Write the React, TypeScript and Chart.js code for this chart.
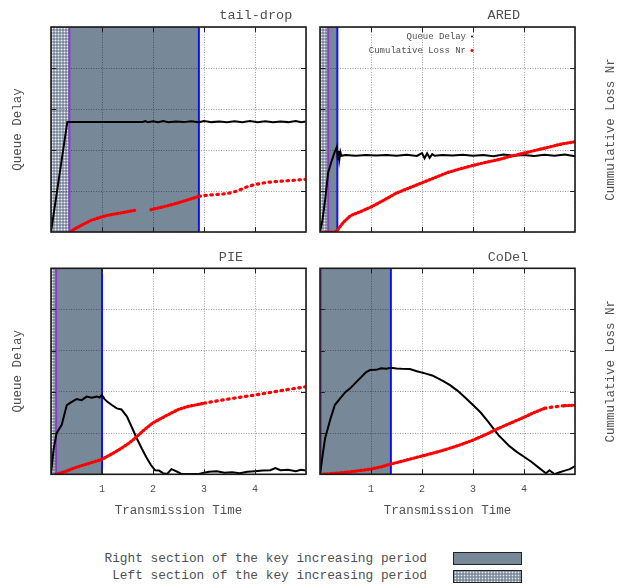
import React, { useEffect, useRef } from "react";
import { Chart, registerables } from "chart.js";

Chart.register(...registerables);

// ---------------- data ----------------
const panelTitles = ["tail-drop", "ARED", "PIE", "CoDel"];
const xTickLabels = [1, 2, 3, 4];
const xAxisTitle = "Transmission Time";
const yAxisTitle = "Queue Delay";
const y2AxisTitle = "Cummulative Loss Nr";
const seriesLabels = ["Queue Delay", "Cumulative Loss Nr"];
const keyLabels = [
  "Right section of the key increasing period",
  "Left section of the key increasing period",
];

// boundaries of the key increasing period (x units)
const leftSectionEnd = [0.36, 0.16, 0.1, 0.02];
const rightSectionEnd = [2.9, 0.34, 1.0, 1.39];

const tailDropDelayX = [0, 0.32, 0.8, 1.4, 1.8, 1.85, 1.9, 2.0, 2.1, 2.2, 2.3, 2.45, 2.6, 2.75, 2.9, 3.0, 3.15, 3.3, 3.45, 3.6, 3.75, 3.9, 4.05, 4.2, 4.35, 4.5, 4.65, 4.8, 4.9, 5.0];
const tailDropDelayY = [0, 0.537, 0.537, 0.537, 0.537, 0.541, 0.535, 0.54, 0.536, 0.541, 0.535, 0.539, 0.536, 0.54, 0.535, 0.541, 0.536, 0.539, 0.535, 0.54, 0.536, 0.541, 0.536, 0.54, 0.535, 0.539, 0.536, 0.541, 0.535, 0.539];
const tailDropLossX = [0.37, 0.5, 0.65, 0.8, 0.95, 1.1, 1.3, 1.5, 1.65, 1.8, 1.96, 2.1, 2.3, 2.5, 2.7, 2.9, 3.0, 3.2, 3.45, 3.65, 3.84, 4.0, 4.23, 4.5, 4.75, 5.0];
const tailDropLossY = [0, 0.02, 0.04, 0.058, 0.07, 0.081, 0.09, 0.099, 0.106, null, 0.109, 0.117, 0.129, 0.143, 0.158, 0.174, 0.178, 0.182, 0.187, 0.2, 0.22, 0.232, 0.242, 0.248, 0.252, 0.257];

const aredDelayX = [0, 0.05, 0.1, 0.16, 0.22, 0.28, 0.33, 0.35, 0.37, 0.38, 0.4, 0.42, 0.5, 0.7, 0.9, 1.1, 1.3, 1.5, 1.7, 1.9, 2.0, 2.05, 2.1, 2.15, 2.2, 2.25, 2.4, 2.6, 2.8, 3.0, 3.2, 3.4, 3.6, 3.8, 4.0, 4.2, 4.4, 4.6, 4.8, 5.0];
const aredDelayY = [0, 0.06, 0.155, 0.29, 0.34, 0.385, 0.415, 0.35, 0.395, 0.355, 0.39, 0.372, 0.376, 0.372, 0.375, 0.373, 0.376, 0.372, 0.377, 0.371, 0.385, 0.36, 0.384, 0.362, 0.38, 0.372, 0.376, 0.373, 0.377, 0.372, 0.375, 0.37, 0.378, 0.372, 0.376, 0.371, 0.377, 0.372, 0.378, 0.37];
const aredLossX = [0.1, 0.3, 0.36, 0.45, 0.6, 0.8, 1.0, 1.25, 1.5, 1.75, 2.0, 2.25, 2.5, 2.75, 3.0, 3.25, 3.5, 3.75, 4.0, 4.25, 4.5, 4.75, 5.0];
const aredLossY = [0, 0, 0.015, 0.045, 0.08, 0.1, 0.122, 0.155, 0.19, 0.215, 0.24, 0.265, 0.29, 0.308, 0.325, 0.34, 0.353, 0.37, 0.385, 0.4, 0.415, 0.43, 0.44];

const pieDelayX = [0, 0.05, 0.11, 0.21, 0.31, 0.4, 0.5, 0.6, 0.7, 0.8, 0.9, 0.95, 1.0, 1.05, 1.1, 1.2, 1.29, 1.38, 1.49, 1.6, 1.68, 1.78, 1.88, 1.96, 2.04, 2.12, 2.2, 2.28, 2.36, 2.45, 2.55, 2.7, 2.9, 3.0, 3.1, 3.25, 3.4, 3.55, 3.7, 3.85, 4.0, 4.15, 4.3, 4.4, 4.5, 4.65, 4.8, 4.9, 5.0];
const pieDelayY = [0, 0.12, 0.2, 0.24, 0.336, 0.35, 0.365, 0.36, 0.377, 0.372, 0.378, 0.373, 0.385, 0.365, 0.353, 0.335, 0.32, 0.315, 0.28, 0.22, 0.175, 0.125, 0.078, 0.045, 0.02, 0.018, 0.005, 0.002, 0.025, 0.015, 0.003, 0.002, 0.002, 0.008, 0.012, 0.015, 0.008, 0.01, 0.005, 0.012, 0.015, 0.018, 0.02, 0.03, 0.02, 0.022, 0.015, 0.022, 0.018];
const pieLossX = [0.1, 0.3, 0.45, 0.6, 0.8, 1.0, 1.2, 1.4, 1.5, 1.6, 1.7, 1.8, 1.9, 2.0, 2.15, 2.3, 2.5, 2.7, 3.0, 3.3, 3.6, 4.0, 4.3, 4.6, 5.0];
const pieLossY = [0, 0.015, 0.03, 0.042, 0.057, 0.073, 0.1, 0.13, 0.146, 0.165, 0.187, 0.21, 0.23, 0.25, 0.27, 0.29, 0.315, 0.33, 0.345, 0.358, 0.37, 0.385, 0.397, 0.41, 0.425];

const codelDelayX = [0, 0.05, 0.1, 0.2, 0.29, 0.4, 0.5, 0.59, 0.7, 0.8, 0.9, 0.98, 1.1, 1.2, 1.3, 1.39, 1.5, 1.6, 1.76, 1.9, 2.06, 2.2, 2.4, 2.55, 2.7, 2.85, 3.0, 3.15, 3.3, 3.5, 3.7, 3.85, 4.0, 4.15, 4.3, 4.43, 4.5, 4.55, 4.6, 4.7, 4.8, 4.9, 5.0];
const codelDelayY = [0, 0.09, 0.175, 0.265, 0.336, 0.37, 0.4, 0.417, 0.445, 0.47, 0.495, 0.506, 0.507, 0.515, 0.512, 0.517, 0.514, 0.512, 0.511, 0.5, 0.49, 0.48, 0.455, 0.433, 0.405, 0.372, 0.336, 0.3, 0.255, 0.19, 0.14, 0.11, 0.085, 0.06, 0.03, 0.005, 0.02, 0.01, 0.0, 0.01, 0.018, 0.025, 0.04];
const codelLossX = [0, 0.3, 0.6, 0.98, 1.2, 1.39, 1.6, 1.8, 2.0, 2.25, 2.5, 2.75, 3.0, 3.25, 3.5, 3.75, 4.0, 4.2, 4.4, 4.6, 4.8, 5.0];
const codelLossY = [0, 0.005, 0.012, 0.025, 0.036, 0.05, 0.063, 0.076, 0.089, 0.105, 0.123, 0.143, 0.166, 0.193, 0.223, 0.25, 0.277, 0.3, 0.32, 0.328, 0.333, 0.336];

const delayX = [tailDropDelayX, aredDelayX, pieDelayX, codelDelayX];
const delayY = [tailDropDelayY, aredDelayY, pieDelayY, codelDelayY];
const lossX = [tailDropLossX, aredLossX, pieLossX, codelLossX];
const lossY = [tailDropLossY, aredLossY, pieLossY, codelLossY];

// ---------------- layout / style ----------------
const FONT = '"Liberation Mono", "DejaVu Sans Mono", monospace';
const TEXT = "#505050";
const SLATE = "#778899";

type Layout = {
  left: number; top: number; w: number; h: number;
  padL: number; padT: number; padR: number;
  yW: number; xH: number; bottomRow: boolean; leftCol: boolean;
  titleX: number; titleY: number; legend: boolean;
  sparseFrom: number; sparseTo: number;
};

const layouts: Layout[] = [
  { left: 0, top: 0, w: 308, h: 245, padL: 0, padT: 27, padR: 2, yW: 51, xH: 13, bottomRow: false, leftCol: true, titleX: 255.8, titleY: 15, legend: false, sparseFrom: 2.9, sparseTo: 5.1 },
  { left: 308, top: 0, w: 309, h: 245, padL: 12, padT: 27, padR: 42, yW: 0, xH: 13, bottomRow: false, leftCol: false, titleX: 195.8, titleY: 15, legend: true, sparseFrom: 9, sparseTo: 9 },
  { left: 0, top: 245, w: 308, h: 300, padL: 0, padT: 23.3, padR: 2, yW: 51, xH: 70.7, bottomRow: true, leftCol: true, titleX: 231, titleY: 12, legend: false, sparseFrom: 3.0, sparseTo: 5.1 },
  { left: 308, top: 245, w: 309, h: 300, padL: 12, padT: 23.3, padR: 42, yW: 0, xH: 70.7, bottomRow: true, leftCol: false, titleX: 200, titleY: 12, legend: false, sparseFrom: 4.35, sparseTo: 4.75 },
];

let patternTile: HTMLCanvasElement | null = null;
function getPatternTile() {
  if (patternTile) return patternTile;
  const c = document.createElement("canvas");
  c.width = 3;
  c.height = 3;
  const g = c.getContext("2d")!;
  g.fillStyle = "#7f8c9d";
  g.fillRect(0, 0, 3, 3);
  g.fillStyle = "#aab4c1";
  g.fillRect(0, 1, 1, 1);
  g.fillRect(2, 1, 1, 1);
  g.fillRect(1, 0, 1, 1);
  g.fillRect(1, 2, 1, 1);
  g.fillStyle = "#eceff4";
  g.fillRect(1, 1, 1, 1);
  patternTile = c;
  return c;
}

function makeDeco(i: number) {
  const L = layouts[i];
  return {
    id: "deco" + i,
    beforeDraw(chart: any) {
      const { ctx, chartArea: a, scales } = chart;
      const xs = scales.x;
      const h = a.bottom - a.top;
      const x0 = xs.getPixelForValue(0);
      const x1 = xs.getPixelForValue(leftSectionEnd[i]);
      const x2 = xs.getPixelForValue(rightSectionEnd[i]);
      ctx.save();
      ctx.fillStyle = "#ffffff";
      ctx.fillRect(a.left, a.top, a.right - a.left, h);
      ctx.fillStyle = ctx.createPattern(getPatternTile(), "repeat");
      ctx.fillRect(x0, a.top, x1 - x0, h);
      ctx.fillStyle = SLATE;
      ctx.fillRect(x1, a.top, x2 - x1, h);
      ctx.restore();
    },
    beforeDatasetsDraw(chart: any) {
      const { ctx, chartArea: a, scales } = chart;
      const xs = scales.x;
      const x1 = xs.getPixelForValue(leftSectionEnd[i]);
      const x2 = xs.getPixelForValue(rightSectionEnd[i]);
      ctx.save();
      ctx.lineWidth = 2;
      ctx.strokeStyle = "#8a3ccf";
      ctx.beginPath();
      ctx.moveTo(x1, a.top);
      ctx.lineTo(x1, a.bottom);
      ctx.stroke();
      ctx.strokeStyle = "#1010ff";
      ctx.beginPath();
      ctx.moveTo(x2, a.top);
      ctx.lineTo(x2, a.bottom);
      ctx.stroke();
      ctx.restore();
    },
    afterDatasetsDraw(chart: any) {
      const { ctx, chartArea: a, scales } = chart;
      const xs = scales.x;
      const ys = scales.y;
      ctx.save();
      // inward tick marks
      ctx.strokeStyle = "#222";
      ctx.lineWidth = 1;
      ctx.beginPath();
      xs.ticks.forEach((t: any) => {
        if (t.value <= xs.min || t.value >= xs.max) return;
        const px = Math.round(xs.getPixelForValue(t.value)) + 0.5;
        ctx.moveTo(px, a.bottom);
        ctx.lineTo(px, a.bottom - 5);
        ctx.moveTo(px, a.top);
        ctx.lineTo(px, a.top + 5);
      });
      ys.ticks.forEach((t: any) => {
        if (t.value <= ys.min + 1e-6 || t.value >= ys.max - 1e-6) return;
        const py = Math.round(ys.getPixelForValue(t.value)) + 0.5;
        ctx.moveTo(a.left, py);
        ctx.lineTo(a.left + 5, py);
        ctx.moveTo(a.right, py);
        ctx.lineTo(a.right - 5, py);
      });
      ctx.stroke();
      // frame
      ctx.lineWidth = 1.6;
      ctx.strokeStyle = "#1a1a1a";
      ctx.strokeRect(a.left, a.top, a.right - a.left, a.bottom - a.top);
      // in-plot key
      if (L.legend) {
        ctx.font = `9px ${FONT}`;
        ctx.textAlign = "right";
        ctx.textBaseline = "middle";
        const ds = chart.data.datasets;
        const rows = [ds[0], ds[1]];
        rows.forEach((d: any, k: number) => {
          const y = 36.5 + k * 14;
          ctx.fillStyle = TEXT;
          ctx.fillText(d.label, 158, y);
          ctx.fillStyle = d.borderColor;
          ctx.beginPath();
          ctx.arc(164, y, k === 0 ? 0.9 : 1.6, 0, Math.PI * 2);
          ctx.fill();
        });
      }
      ctx.restore();
    },
    afterDraw(chart: any) {
      const { ctx, chartArea: a } = chart;
      ctx.save();
      ctx.fillStyle = TEXT;
      ctx.font = `13.5px ${FONT}`;
      ctx.textAlign = "center";
      ctx.textBaseline = "middle";
      ctx.fillText(panelTitles[i], L.titleX, L.titleY);
      if (!L.leftCol) {
        ctx.font = `12.5px ${FONT}`;
        ctx.translate(303, (a.top + a.bottom) / 2);
        ctx.rotate(-Math.PI / 2);
        ctx.fillText(y2AxisTitle, 0, 0);
      }
      ctx.restore();
    },
  };
}

function Panel({ i }: { i: number }) {
  const ref = useRef<HTMLCanvasElement>(null);
  const L = layouts[i];
  useEffect(() => {
    const canvas = ref.current!;
    const delay = delayX[i].map((x, k) => ({ x, y: delayY[i][k] }));
    const loss = lossX[i].map((x, k) => ({ x, y: lossY[i][k] }));
    const chart = new Chart(canvas, {
      type: "line",
      data: {
        datasets: [
          {
            label: seriesLabels[0],
            data: delay as any,
            borderColor: "#000000",
            borderWidth: 2,
            pointRadius: 0,
            tension: 0,
            yAxisID: "y",
            order: 1,
          },
          {
            label: seriesLabels[1],
            data: loss as any,
            borderColor: "#ff0000",
            borderWidth: 3.2,
            borderDash: [1, 2.4],
            borderCapStyle: "round",
            pointRadius: 0,
            tension: 0,
            spanGaps: false,
            yAxisID: "y2",
            order: 0,
            segment: {
              borderDash: (c: any) => {
                const x0 = c.p0.parsed.x;
                return x0 >= L.sparseFrom && x0 < L.sparseTo ? [1.5, 4.5] : undefined;
              },
            },
          } as any,
        ],
      },
      options: {
        responsive: false,
        devicePixelRatio: 1,
        animation: false,
        events: [],
        layout: { padding: { left: L.padL, top: L.padT, right: L.padR, bottom: 0 } },
        plugins: {
          legend: { display: false },
          tooltip: { enabled: false },
          title: { display: false },
        },
        scales: {
          x: {
            type: "linear",
            min: 0,
            max: 5,
            ticks: {
              stepSize: 1,
              display: L.bottomRow,
              padding: 9,
              color: TEXT,
              font: { family: FONT, size: 10 },
              callback: (v: any) => (xTickLabels.includes(Number(v)) ? String(v) : ""),
            },
            grid: { color: "rgba(0,0,0,0.38)", lineWidth: 1, drawTicks: false },
            border: { display: false, dash: [1, 1.5] },
            title: {
              display: L.bottomRow,
              text: xAxisTitle,
              color: TEXT,
              font: { family: FONT, size: 12.5 },
              padding: { top: 0, bottom: 26.8 },
            },
            afterFit: (s: any) => {
              s.height = L.xH;
              s.paddingLeft = 0;
              s.paddingRight = 0;
              s.paddingTop = 0;
              s.paddingBottom = 0;
            },
          },
          y: {
            type: "linear",
            position: "left",
            min: 0,
            max: 1,
            ticks: { stepSize: 0.2, display: false },
            grid: { color: "rgba(0,0,0,0.38)", lineWidth: 1, drawTicks: false },
            border: { display: false, dash: [1, 1.5] },
            title: {
              display: L.leftCol,
              text: yAxisTitle,
              color: TEXT,
              font: { family: FONT, size: 12.5 },
              padding: { top: 10, bottom: 0 },
            },
            afterFit: (s: any) => {
              s.width = L.yW;
              s.paddingLeft = 0;
              s.paddingRight = 0;
              s.paddingTop = 0;
              s.paddingBottom = 0;
            },
          },
          y2: {
            type: "linear",
            position: "right",
            display: false,
            min: 0,
            max: 1,
          },
        },
      } as any,
      plugins: [makeDeco(i)],
    });
    return () => chart.destroy();
  }, []);
  return (
    <canvas
      ref={ref}
      width={L.w}
      height={L.h}
      style={{ position: "absolute", left: L.left, top: L.top, width: L.w, height: L.h }}
    />
  );
}

export default function App() {
  const keyText: React.CSSProperties = {
    position: "absolute",
    left: 0,
    width: 427,
    textAlign: "right",
    fontFamily: FONT,
    fontSize: 12.8,
    lineHeight: "16px",
    color: TEXT,
    whiteSpace: "pre",
  };
  const box: React.CSSProperties = {
    position: "absolute",
    left: 453,
    width: 69,
    boxSizing: "border-box",
    border: "1.5px solid #222",
  };
  return (
    <div
      style={{
        position: "absolute",
        left: 0,
        top: 0,
        width: 617,
        height: 587,
        overflow: "hidden",
        background: "#ffffff",
      }}
    >
      {[0, 1, 2, 3].map((i) => (
        <Panel key={i} i={i} />
      ))}
      <div style={{ ...keyText, top: 551 }}>{keyLabels[0]}</div>
      <div style={{ ...keyText, top: 568 }}>{keyLabels[1]}</div>
      <div style={{ ...box, top: 552, height: 13, background: SLATE }} />
      <div
        style={{
          ...box,
          top: 570,
          height: 12.5,
          backgroundColor: "#7f8c9d",
          backgroundImage: "radial-gradient(circle, #eceff4 0.7px, transparent 1.1px)",
          backgroundSize: "3px 3px",
        }}
      />
    </div>
  );
}
